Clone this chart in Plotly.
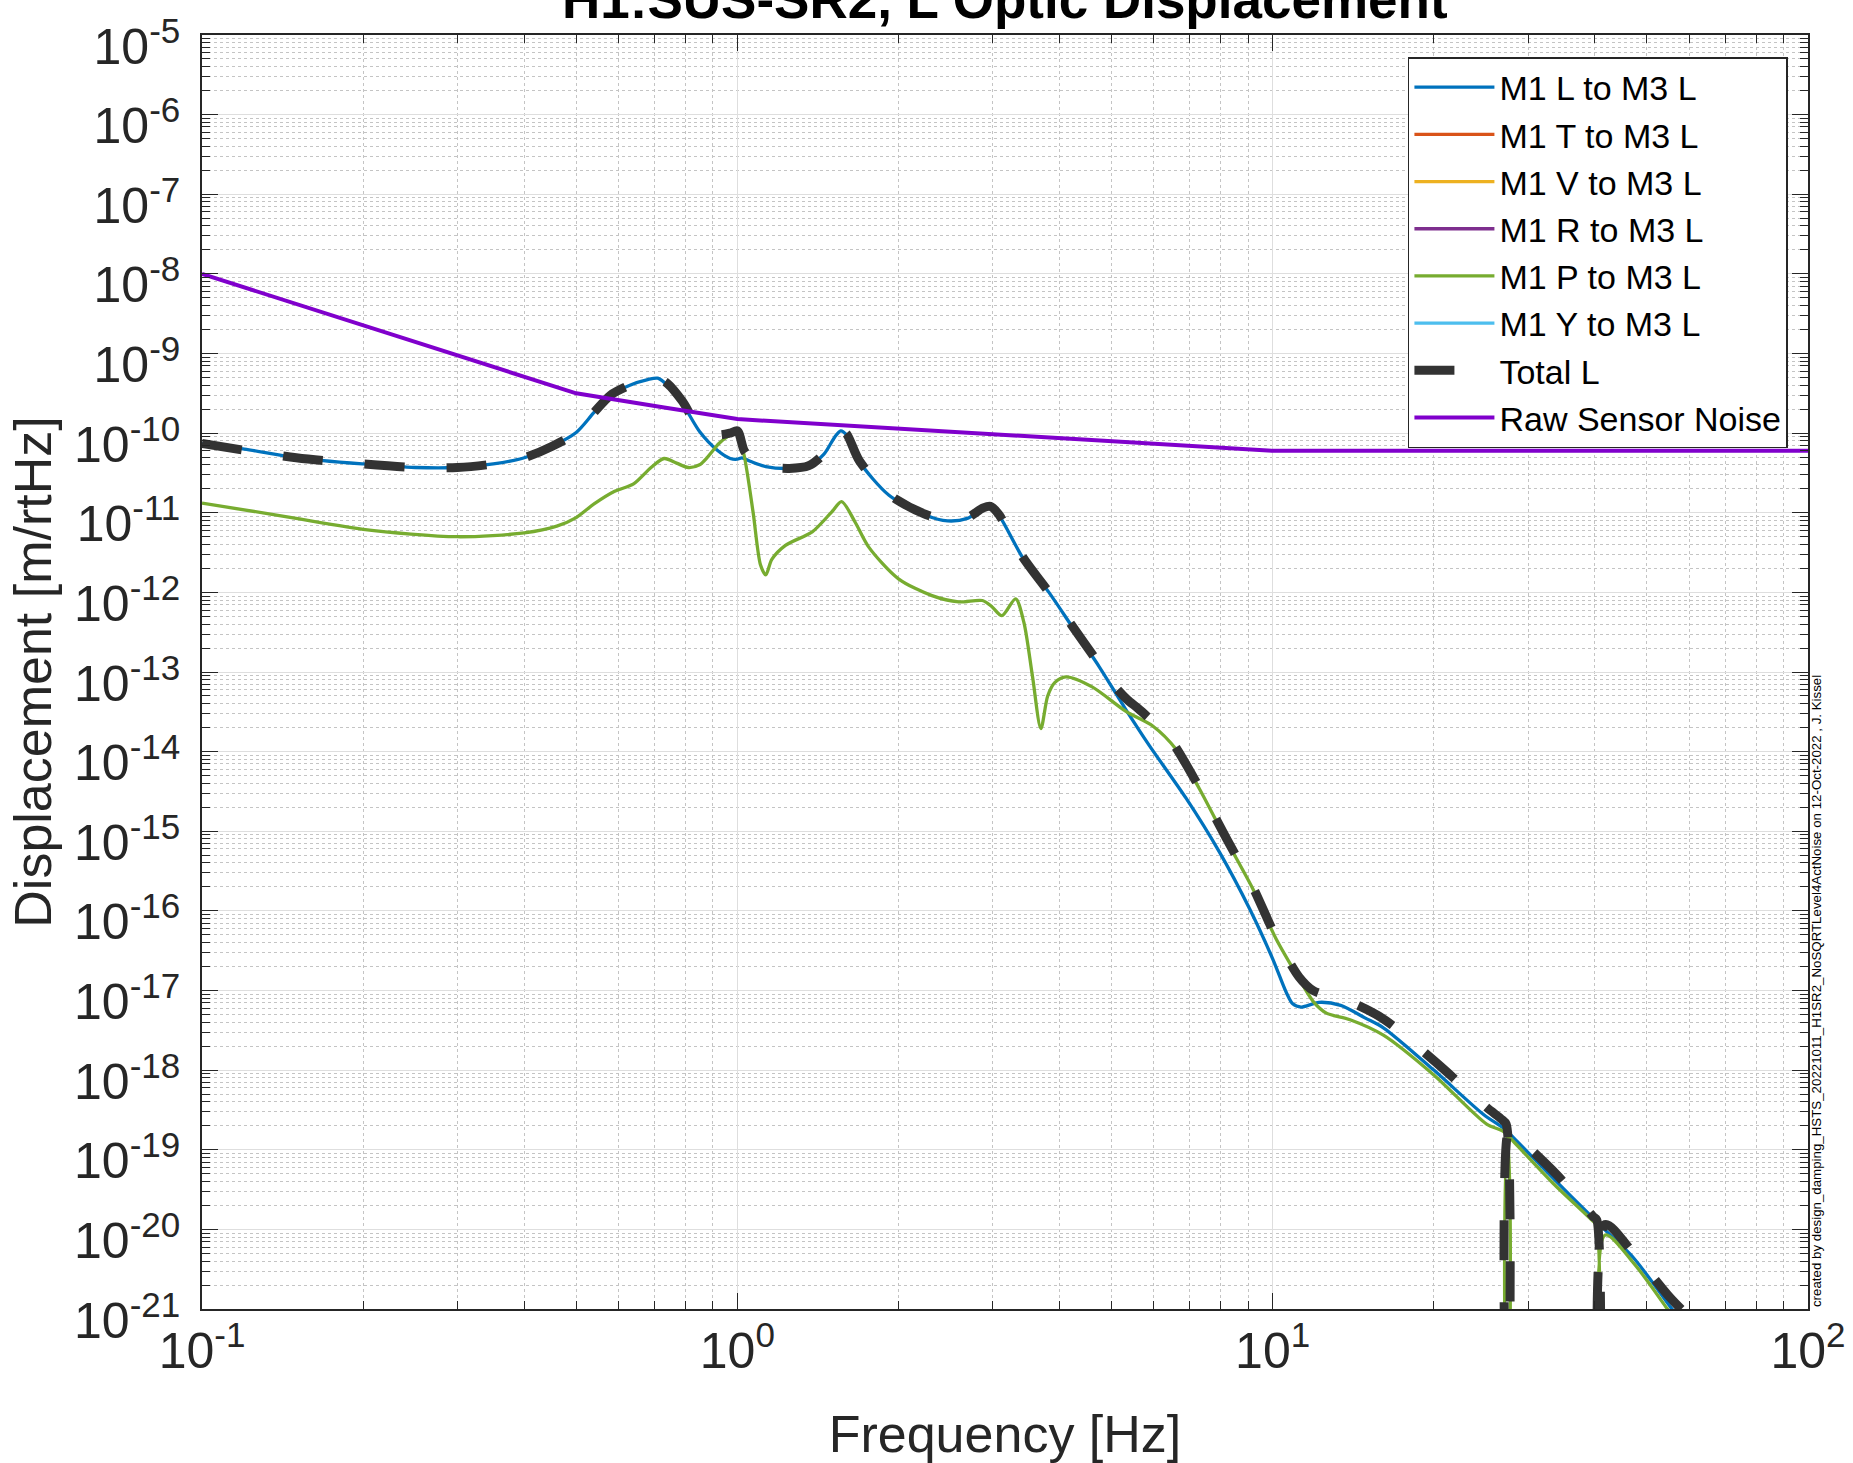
import plotly.graph_objects as go

# ---------------- data ----------------
m1_l_freq = [0.1, 0.12, 0.15, 0.2, 0.25, 0.3, 0.35, 0.4, 0.45, 0.5, 0.54, 0.58, 0.63, 0.68, 0.71,
             0.74, 0.79, 0.85, 0.92, 0.97, 1.0, 1.02, 1.06, 1.13, 1.25, 1.36, 1.45, 1.52, 1.56,
             1.6, 1.69, 1.92, 2.25, 2.47, 2.69, 2.88, 2.97, 3.08, 3.41, 3.82, 4.2, 4.74, 5.3,
             5.88, 6.89, 7.95, 9.05, 10.0, 10.6, 10.9, 11.3, 12.2, 13.4, 14.9, 16.1, 20.0, 24.8,
             27.0, 28.2, 33.4, 39.7, 42.7, 47.2, 55.3, 60.0]
m1_l_vals = [7.4e-11, 6.3e-11, 4.9e-11, 4.1e-11, 3.7e-11, 3.7e-11, 4.1e-11, 4.9e-11, 6.8e-11,
             1.02e-10, 1.82e-10, 3.0e-10, 4.0e-10, 4.7e-10, 4.9e-10, 4.0e-10, 2.34e-10, 1.05e-10,
             6.0e-11, 4.8e-11, 4.7e-11, 4.9e-11, 4.4e-11, 3.8e-11, 3.6e-11, 3.9e-11, 5.4e-11,
             8.9e-11, 1.07e-10, 9.5e-11, 4.4e-11, 1.66e-11, 9.3e-12, 7.9e-12, 8.5e-12, 1.12e-11,
             1.17e-11, 9.3e-12, 2.75e-12, 1.0e-12, 3.9e-13, 1.17e-13, 3.5e-14, 1.2e-14, 2.6e-15,
             5.5e-16, 1.07e-16, 2.5e-17, 9.5e-18, 6.8e-18, 6.2e-18, 7.1e-18, 6.5e-18, 4.5e-18,
             3.4e-18, 1.0e-18, 2.75e-19, 1.86e-19, 1.41e-19, 4.4e-20, 1.38e-20, 8.5e-21, 4.4e-21,
             1.07e-21, 5.0e-22]

m1_p_freq = [0.1, 0.136, 0.2, 0.3, 0.4, 0.46, 0.5, 0.54, 0.59, 0.64, 0.69, 0.73, 0.77, 0.81,
             0.85, 0.88, 0.924, 0.96, 1.0, 1.03, 1.07, 1.105, 1.13, 1.16, 1.23, 1.38, 1.5, 1.566,
             1.66, 1.76, 2.0, 2.31, 2.59, 2.87, 2.99, 3.12, 3.31, 3.43, 3.56, 3.69, 3.8, 3.92,
             4.11, 4.6, 5.32, 5.97, 6.6, 7.3, 8.18, 9.18, 10.14, 11.2, 11.92, 12.6, 13.95, 16.1,
             20.0, 25.1, 26.8, 27.3, 27.45, 27.6, 28.2, 33.4, 39.7, 40.3, 41.0, 41.8, 47.2,
             54.5, 60.0]
m1_p_vals = [1.32e-11, 9.5e-12, 6.2e-12, 5.0e-12, 5.6e-12, 6.8e-12, 8.7e-12, 1.29e-11, 1.86e-11,
             2.3e-11, 3.7e-11, 4.8e-11, 4.2e-11, 3.7e-11, 4.0e-11, 5.0e-11, 7.4e-11, 9.1e-11,
             1.02e-10, 5.2e-11, 1.02e-11, 2.2e-12, 1.66e-12, 2.6e-12, 3.9e-12, 5.75e-12, 1.02e-11,
             1.38e-11, 7.6e-12, 3.7e-12, 1.48e-12, 9.1e-13, 7.6e-13, 7.9e-13, 6.6e-13, 5.1e-13,
             8.3e-13, 4.2e-13, 8.7e-14, 1.95e-14, 5.0e-14, 7.4e-14, 8.7e-14, 6.5e-14, 3.2e-14,
             2.1e-14, 1.07e-14, 3.4e-15, 7.9e-16, 1.9e-16, 4.5e-17, 1.41e-17, 7.2e-18, 5.2e-18,
             4.3e-18, 2.75e-18, 8.7e-19, 2.1e-19, 1.74e-19, 1.58e-19, 1e-24, 1.45e-19, 1.26e-19,
             3.8e-20, 1.26e-20, 1.12e-20, 1e-24, 8.5e-21, 3.8e-21, 1.02e-21, 4.0e-22]

total_freq = [0.1, 0.15, 0.2, 0.25, 0.3, 0.35, 0.4, 0.45, 0.5, 0.54, 0.58, 0.63, 0.68, 0.71, 0.74,
              0.79, 0.85, 0.92, 0.97, 1.0, 1.03, 1.07, 1.13, 1.25, 1.36, 1.45, 1.52, 1.56, 1.6,
              1.69, 1.92, 2.25, 2.47, 2.69, 2.88, 2.97, 3.08, 3.41, 3.82, 4.2, 4.74, 5.1, 5.35,
              5.6, 5.97, 6.3, 6.6, 7.3, 8.18, 9.18, 10.14, 11.2, 11.9, 12.6, 13.95, 16.1, 20.0,
              25.1, 26.8, 27.3, 27.45, 27.6, 28.2, 33.9, 39.7, 40.3, 41.0, 41.8, 47.2, 55.3, 60.0]
total_vals = [7.4e-11, 4.9e-11, 4.1e-11, 3.7e-11, 3.7e-11, 4.1e-11, 4.9e-11, 6.8e-11, 1.02e-10,
              1.82e-10, 3.0e-10, 4.0e-10, 4.7e-10, 4.9e-10, 4.2e-10, 2.5e-10, 1.15e-10, 9.5e-11,
              1.0e-10, 1.07e-10, 6.0e-11, 4.4e-11, 3.8e-11, 3.6e-11, 3.9e-11, 5.5e-11, 9.1e-11,
              1.1e-10, 9.8e-11, 4.5e-11, 1.7e-11, 9.5e-12, 8.1e-12, 8.7e-12, 1.15e-11, 1.2e-11,
              9.5e-12, 2.8e-12, 1.0e-12, 4.0e-13, 1.26e-13, 6.3e-14, 4.5e-14, 3.5e-14, 2.4e-14,
              1.74e-14, 1.12e-14, 3.5e-15, 8.3e-16, 2.0e-16, 4.7e-17, 1.48e-17, 1.0e-17, 8.7e-18,
              7.2e-18, 4.4e-18, 1.32e-18, 3.4e-19, 2.4e-19, 2.1e-19, 1e-24, 1.74e-19, 1.58e-19,
              4.9e-20, 1.45e-20, 1.32e-20, 1e-24, 1.15e-20, 5.0e-21, 1.38e-21, 7.9e-22]

sensor_freq = [0.1, 0.5, 0.73, 1.0, 10.0, 100.0]
sensor_vals = [1.0e-8, 3.16e-10, 2.1e-10, 1.5e-10, 6.0e-11, 6.0e-11]

x_tick_vals = [0.1, 1, 10, 100]
x_tick_text = ["10<sup>-1</sup>", "10<sup>0</sup>", "10<sup>1</sup>", "10<sup>2</sup>"]
y_exponents = list(range(-21, -4))
y_tick_vals = [10.0 ** e for e in y_exponents]
y_tick_text = ["10<sup>%d</sup>" % e for e in y_exponents]

x_minor = [m * 10.0 ** e for e in (-1, 0, 1) for m in range(2, 10)]
y_minor = [m * 10.0 ** e for e in range(-21, -5) for m in range(2, 10)]

# ---------------- styling ----------------
FONT = "Liberation Sans, Arial, Helvetica, sans-serif"
AX = "#262626"
C_L = "#0072BD"
C_T = "#D95319"
C_V = "#EDB120"
C_R = "#7E2F8E"
C_P = "#77AC30"
C_Y = "#4DBEEE"
C_TOT = "#333333"
C_NOISE = "#8000CC"

fig = go.Figure()
fig.add_trace(go.Scatter(x=m1_l_freq, y=m1_l_vals, mode="lines", name="M1 L to M3 L",
                         line=dict(color=C_L, width=3.3, shape="spline", smoothing=0.8)))
for nm, col in [("M1 T to M3 L", C_T), ("M1 V to M3 L", C_V), ("M1 R to M3 L", C_R)]:
    fig.add_trace(go.Scatter(x=[None], y=[None], mode="lines", name=nm,
                             line=dict(color=col, width=3.3)))
fig.add_trace(go.Scatter(x=m1_p_freq, y=m1_p_vals, mode="lines", name="M1 P to M3 L",
                         line=dict(color=C_P, width=3.3, shape="spline", smoothing=0.8)))
fig.add_trace(go.Scatter(x=[None], y=[None], mode="lines", name="M1 Y to M3 L",
                         line=dict(color=C_Y, width=3.3)))
fig.add_trace(go.Scatter(x=total_freq, y=total_vals, mode="lines", name="Total L",
                         line=dict(color=C_TOT, width=9, dash="40px,42px",
                                   shape="spline", smoothing=0.8)))
fig.add_trace(go.Scatter(x=sensor_freq, y=sensor_vals, mode="lines", name="Raw Sensor Noise",
                         line=dict(color=C_NOISE, width=4)))

axis_common = dict(
    type="log",
    showline=True, linecolor=AX, linewidth=1.5, mirror="allticks",
    ticks="inside", ticklen=16, tickwidth=1.2, tickcolor=AX,
    showgrid=True, gridcolor="#dedede", gridwidth=1,
    zeroline=False, ticklabeloverflow="allow",
    tickfont=dict(family=FONT, size=50, color=AX),
)

fig.update_layout(
    width=1853, height=1463,
    margin=dict(l=202, r=45, t=35, b=154, autoexpand=False),
    paper_bgcolor="white", plot_bgcolor="white",
    font=dict(family=FONT, color=AX),
    showlegend=True,
    legend=dict(
        x=0.9875, y=0.9827, xanchor="right", yanchor="top",
        bgcolor="white", bordercolor=AX, borderwidth=1.5,
        font=dict(family=FONT, size=34, color="black"),
        itemwidth=80, tracegroupgap=0,
    ),
    xaxis=dict(
        axis_common,
        range=[-1, 2],
        tickmode="array", tickvals=x_tick_vals, ticktext=x_tick_text,
        ticklabelstandoff=-3,
        minor=dict(tickmode="array", tickvals=x_minor, ticks="inside", ticklen=8,
                   tickcolor=AX, showgrid=True, gridcolor="#c4c4c4", griddash="dot", gridwidth=1),
        title=dict(text="Frequency [Hz]", font=dict(family=FONT, size=52, color=AX), standoff=39),
    ),
    yaxis=dict(
        axis_common,
        range=[-21, -5],
        tickmode="array", tickvals=y_tick_vals, ticktext=y_tick_text,
        ticklabelstandoff=10, ticklabelshift=11,
        minor=dict(tickmode="array", tickvals=y_minor, ticks="inside", ticklen=8,
                   tickcolor=AX, showgrid=True, gridcolor="#c4c4c4", griddash="dot", gridwidth=1),
        title=dict(text="Displacement [m/rtHz]", font=dict(family=FONT, size=52, color=AX), standoff=6),
    ),
    annotations=[
        dict(text="<b>H1:SUS-SR2, L Optic Displacement</b>", xref="paper", yref="paper",
             x=0.5, y=1.003, xanchor="center", yanchor="bottom", showarrow=False,
             font=dict(family=FONT, size=53, color="black")),
        dict(text="created by design_damping_HSTS_20221011_H1SR2_NoSQRTLevel4ActNoise on 12-Oct-2022 , J. Kissel",
             xref="paper", yref="paper", x=1.005, y=0.0, xanchor="center", yanchor="bottom",
             textangle=-90, showarrow=False, font=dict(family=FONT, size=13.3, color="black")),
    ],
)

fig.write_html("out.html")
